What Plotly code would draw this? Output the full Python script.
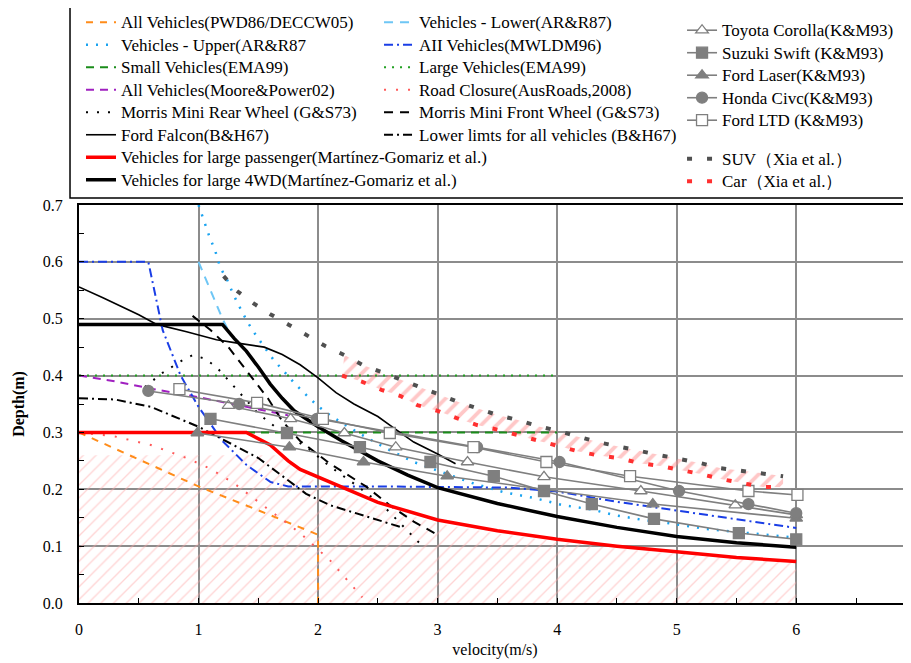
import plotly.graph_objects as go

# ---------------- data (velocity m/s, depth m) ----------------
pwd_v = [0, 0.5, 1.0, 1.5, 2.0, 2.0]
pwd_d = [0.30, 0.253, 0.205, 0.163, 0.12, 0.0]

arr_lower_v = [1.0, 1.1, 1.2, 1.27]
arr_lower_d = [0.60, 0.55, 0.50, 0.47]

arr_upper_v = [1.0, 1.05, 1.09, 1.14, 1.18, 1.24, 1.29, 1.35, 1.41, 1.48, 1.56, 1.63, 1.72, 1.81, 1.9,
               1.99, 2.1, 2.33, 2.56, 2.8, 3.05, 3.29, 3.55, 3.8, 4.05, 4.3, 4.47, 4.72, 4.98, 5.25, 5.5, 5.77, 6.0]
arr_upper_d = [0.70, 0.67, 0.645, 0.619, 0.591, 0.568, 0.543, 0.518, 0.494, 0.471, 0.448, 0.427, 0.406, 0.385, 0.366,
               0.348, 0.33, 0.30, 0.273, 0.248, 0.229, 0.211, 0.195, 0.185, 0.172, 0.164, 0.155, 0.146, 0.139, 0.13, 0.125, 0.12, 0.115]

mwldm_v = [0, 0.58, 0.7, 0.85, 1.0, 1.2, 1.4, 1.6, 1.75, 2.5, 3.6, 4.0, 4.5, 5.0, 5.5, 6.0]
mwldm_d = [0.6, 0.6, 0.48, 0.4, 0.345, 0.285, 0.243, 0.213, 0.205, 0.205, 0.203, 0.196, 0.178, 0.163, 0.147, 0.132]

ema_small_v = [0, 4.0]
ema_small_d = [0.3, 0.3]
ema_large_v = [0, 4.0]
ema_large_d = [0.4, 0.4]

moore_v = [0, 0.3, 0.6, 1.0, 1.4, 1.75]
moore_d = [0.4, 0.39, 0.377, 0.362, 0.345, 0.33]

road_v = [0, 0.3, 0.6, 0.9, 1.1, 1.3, 1.55, 1.85, 2.1, 2.37]
road_d = [0.3, 0.293, 0.278, 0.255, 0.236, 0.21, 0.17, 0.123, 0.075, 0.01]

rear_v = [0.55, 0.7, 0.85, 0.95, 1.05, 1.15, 1.3, 1.5, 1.7, 1.9, 2.1, 2.3, 2.55, 2.85]
rear_d = [0.38, 0.405, 0.425, 0.436, 0.43, 0.415, 0.38, 0.333, 0.3, 0.275, 0.24, 0.21, 0.17, 0.105]

front_v = [0.95, 1.1, 1.25, 1.4, 1.58, 1.7, 1.85, 2.1, 2.4, 2.6, 2.8, 3.0]
front_d = [0.505, 0.48, 0.45, 0.41, 0.36, 0.32, 0.285, 0.245, 0.205, 0.172, 0.143, 0.12]

falcon_v = [0, 0.2, 0.5, 0.65, 0.9, 1.15, 1.3, 1.55, 1.7, 1.85, 2.0, 2.15, 2.3, 2.5, 2.6, 2.8, 3.0, 3.15]
falcon_d = [0.556, 0.537, 0.507, 0.49, 0.477, 0.463, 0.458, 0.45, 0.437, 0.419, 0.396, 0.37, 0.35, 0.328, 0.313, 0.283, 0.262, 0.245]

lowlim_v = [0, 0.3, 0.6, 1.0, 1.5, 1.9, 2.1, 2.4, 2.7]
lowlim_d = [0.36, 0.358, 0.345, 0.31, 0.255, 0.192, 0.172, 0.152, 0.133]

passenger_v = [0, 1.4, 1.6, 1.75, 1.85, 2.0, 2.25, 2.5, 3.0, 3.5, 4.0, 4.5, 5.0, 5.5, 6.0]
passenger_d = [0.3, 0.3, 0.278, 0.25, 0.235, 0.222, 0.2, 0.177, 0.146, 0.127, 0.112, 0.1, 0.09, 0.08, 0.073]

wd4_v = [0, 1.2, 1.3, 1.4, 1.5, 1.6, 1.7, 1.8, 2.0, 2.2, 2.5, 2.75, 3.0, 3.5, 4.0, 4.5, 5.0, 5.5, 6.0]
wd4_d = [0.49, 0.49, 0.465, 0.443, 0.415, 0.385, 0.36, 0.338, 0.31, 0.285, 0.25, 0.225, 0.203, 0.175, 0.152, 0.133, 0.117, 0.106, 0.098]

toyota_v = [1.25, 1.77, 2.22, 2.65, 3.25, 3.89, 4.7, 5.49, 6.0]
toyota_d = [0.347, 0.324, 0.299, 0.274, 0.248, 0.222, 0.197, 0.172, 0.155]
swift_v = [1.1, 1.74, 2.35, 2.94, 3.47, 3.89, 4.29, 4.81, 5.52, 6.0]
swift_d = [0.324, 0.299, 0.274, 0.248, 0.223, 0.197, 0.174, 0.148, 0.123, 0.112]
laser_v = [0.99, 1.76, 2.38, 3.08, 4.8, 6.0]
laser_d = [0.299, 0.274, 0.248, 0.223, 0.174, 0.149]
civic_v = [0.58, 1.34, 1.99, 3.33, 4.02, 5.02, 5.6, 6.0]
civic_d = [0.373, 0.35, 0.324, 0.274, 0.248, 0.197, 0.174, 0.158]
ltd_v = [0.84, 1.49, 2.04, 2.6, 3.3, 3.91, 4.61, 5.6, 6.01]
ltd_d = [0.376, 0.352, 0.324, 0.299, 0.274, 0.248, 0.223, 0.197, 0.19]

suv_v = [1.21, 1.32, 1.46, 1.6, 1.75, 1.91, 2.06, 2.22, 2.37, 2.53, 2.7, 2.85, 3.02, 3.18, 3.35, 3.51, 3.67,
         3.84, 4.02, 4.18, 4.34, 4.52, 4.69, 4.86, 5.03, 5.2, 5.37, 5.55, 5.72, 5.89]
suv_d = [0.575, 0.549, 0.527, 0.508, 0.49, 0.47, 0.452, 0.436, 0.419, 0.406, 0.392, 0.38, 0.366, 0.353, 0.341,
         0.33, 0.322, 0.311, 0.302, 0.292, 0.283, 0.275, 0.267, 0.26, 0.253, 0.246, 0.237, 0.232, 0.228, 0.223]

car_v = [2.2, 2.37, 2.53, 2.69, 2.83, 3.0, 3.16, 3.33, 3.5, 3.67, 3.83, 4.0, 4.17, 4.33, 4.51, 4.69, 4.86,
         5.03, 5.2, 5.37, 5.55, 5.72, 5.89]
car_d = [0.4, 0.389, 0.375, 0.364, 0.348, 0.338, 0.325, 0.313, 0.305, 0.295, 0.286, 0.277, 0.267, 0.26,
         0.255, 0.246, 0.241, 0.234, 0.227, 0.218, 0.211, 0.204, 0.204]

hatch_v = [0, 1.7, 2.0, 2.5, 3.0, 3.5, 4.0, 4.5, 5.0, 5.5, 6.0]
hatch_d = [0.26, 0.26, 0.21, 0.17, 0.14, 0.122, 0.108, 0.096, 0.087, 0.079, 0.072]

x_ticks = [0, 1, 2, 3, 4, 5, 6]
y_ticks = [0.0, 0.1, 0.2, 0.3, 0.4, 0.5, 0.6, 0.7]

# ---------------- figure ----------------
FONT = "Liberation Serif"
GRAY = "#7f7f7f"
fig = go.Figure()


def lbl(text):
    return '<span style="font-size:17px">' + text + '</span>'


# hatched areas
fig.add_trace(go.Scatter(x=hatch_v, y=hatch_d, mode="lines", line=dict(width=0),
                         fill="tozeroy", fillcolor="rgba(0,0,0,0)",
                         fillpattern=dict(shape="/", fgcolor="#ffaaaa", bgcolor="rgba(0,0,0,0)",
                                          size=9, solidity=0.15),
                         showlegend=False, hoverinfo="skip"))
band_v = [v for v in car_v] + [v for v in suv_v if v >= 2.2][::-1]
band_d = [d for d in car_d] + [d for v, d in zip(suv_v, suv_d) if v >= 2.2][::-1]
fig.add_trace(go.Scatter(x=band_v, y=band_d, mode="lines", line=dict(width=0),
                         fill="toself", fillcolor="rgba(0,0,0,0)",
                         fillpattern=dict(shape="/", fgcolor="#ff8f8f", bgcolor="rgba(0,0,0,0)",
                                          size=11, solidity=0.35),
                         showlegend=False, hoverinfo="skip"))


def add_line(v, d, name, color, width, dash, legend, rank, group=None):
    fig.add_trace(go.Scatter(x=v, y=d, mode="lines", name=lbl(name),
                             line=dict(color=color, width=width, dash=dash),
                             legend=legend, legendrank=rank, legendgroup=group))


# column 1 legend
add_line(pwd_v, pwd_d, "All Vehicles(PWD86/DECCW05)", "#ff8c1a", 2, "7px,7px", "legend", 1)
add_line(arr_upper_v, arr_upper_d, "Vehicles - Upper(AR&R87", "#1aa3f0", 2.5, "2px,8px", "legend", 2)
add_line(ema_small_v, ema_small_d, "Small Vehicles(EMA99)", "#1a8c1a", 2, "8px,6px", "legend", 3)
add_line(moore_v, moore_d, "All Vehicles(Moore&Power02)", "#a020c0", 2, "8px,6px", "legend", 4)
add_line(rear_v, rear_d, "Morris Mini Rear Wheel (G&S73)", "black", 2, "2px,9px", "legend", 5)
add_line(falcon_v, falcon_d, "Ford Falcon(B&H67)", "black", 1.6, "solid", "legend", 6)
# column 2 legend
add_line(arr_lower_v, arr_lower_d, "Vehicles - Lower(AR&R87)", "#6ec6f5", 2, "9px,7px", "legend2", 1)
add_line(mwldm_v, mwldm_d, "AII Vehicles(MWLDM96)", "#1a3ee6", 2, "9px,4px,2px,4px", "legend2", 2)
add_line(ema_large_v, ema_large_d, "Large Vehicles(EMA99)", "#22a022", 2, "2px,6px", "legend2", 3)
add_line(road_v, road_d, "Road Closure(AusRoads,2008)", "#ff5a5a", 2, "2px,10px", "legend2", 4)
add_line(front_v, front_d, "Morris Mini Front Wheel (G&S73)", "black", 2, "9px,7px", "legend2", 5)
add_line(lowlim_v, lowlim_d, "Lower limts for all vehicles (B&H67)", "black", 2, "9px,4px,2px,4px", "legend2", 6)
# thick curves
add_line(passenger_v, passenger_d, "Vehicles for large passenger(Martínez-Gomariz et al.)", "#ff0000", 3.5, "solid", "legend", 7)
add_line(wd4_v, wd4_d, "Vehicles for large 4WD(Martínez-Gomariz et al.)", "black", 3.5, "solid", "legend", 8)

# K&M93 series
km = [
    (toyota_v, toyota_d, "Toyota Corolla(K&M93)", "triangle-up", "white", 11),
    (swift_v, swift_d, "Suzuki Swift (K&M93)", "square", GRAY, 11),
    (laser_v, laser_d, "Ford Laser(K&M93)", "triangle-up", GRAY, 11),
    (civic_v, civic_d, "Honda Civc(K&M93)", "circle", GRAY, 11),
    (ltd_v, ltd_d, "Ford LTD (K&M93)", "square", "white", 11),
]
for i, (v, d, name, sym, fillc, sz) in enumerate(km):
    fig.add_trace(go.Scatter(x=v, y=d, mode="lines+markers", name=lbl(name),
                             line=dict(color=GRAY, width=1.6),
                             marker=dict(symbol=sym, size=sz, color=fillc, line=dict(color=GRAY, width=1.3)),
                             legend="legend3", legendrank=i + 1, legendgroup="km"))

# Xia et al.
fig.add_trace(go.Scatter(x=suv_v, y=suv_d, mode="lines", name=lbl("SUV（Xia et al.）"),
                         line=dict(color="#505050", width=4, dash="5px,15px"),
                         legend="legend3", legendrank=6, legendgroup="xia"))
fig.add_trace(go.Scatter(x=car_v, y=car_d, mode="lines", name=lbl("Car（Xia et al.）"),
                         line=dict(color="#ff3030", width=4, dash="5px,15px"),
                         legend="legend3", legendrank=7, legendgroup="xia"))

leg_common = dict(xanchor="left", yanchor="top", bgcolor="rgba(0,0,0,0)", borderwidth=0,
                  font=dict(family=FONT, size=15, color="black"), xref="paper", yref="paper")

fig.update_layout(
    width=903, height=655,
    margin=dict(l=71, r=0, t=197, b=60, autoexpand=False),
    paper_bgcolor="white", plot_bgcolor="white",
    font=dict(family=FONT, size=16, color="black"),
    legend=dict(x=0.0024, y=1.50, tracegroupgap=0, **leg_common),
    legend2=dict(x=0.3606, y=1.50, tracegroupgap=0, **leg_common),
    legend3=dict(x=0.7248, y=1.48, tracegroupgap=16, **leg_common),
    xaxis=dict(range=[0, 6.96], tickvals=x_ticks, ticktext=[str(t) for t in x_ticks],
               showgrid=True, gridcolor="#8c8c8c", gridwidth=1.5,
               showline=True, linecolor="black", linewidth=2, mirror=True,
               ticks="inside", ticklen=5, tickcolor="black",
               minor=dict(dtick=0.5, ticks="inside", ticklen=5, tickcolor="black", showgrid=False),
               zeroline=False, ticklabelstandoff=11,
               title=dict(text="velocity(m/s)", font=dict(family=FONT, size=16), standoff=7)),
    yaxis=dict(range=[0, 0.7], tickvals=y_ticks, tickformat=".1f",
               showgrid=True, gridcolor="#8c8c8c", gridwidth=1.5,
               showline=True, linecolor="black", linewidth=2, mirror=True,
               ticks="inside", ticklen=5, tickcolor="black",
               minor=dict(dtick=0.05, ticks="inside", ticklen=5, tickcolor="black", showgrid=False),
               zeroline=False, ticklabelstandoff=11,
               title=dict(text="<b>Depth(m)</b>", font=dict(family=FONT, size=16), standoff=14)),
    shapes=[dict(type="rect", xref="paper", yref="paper", x0=-0.0108, x1=1.02, y0=1.0176, y1=1.4975,
                 line=dict(color="black", width=1.5), fillcolor="rgba(0,0,0,0)", layer="below")],
    showlegend=True,
)

fig.write_html("out.html")
